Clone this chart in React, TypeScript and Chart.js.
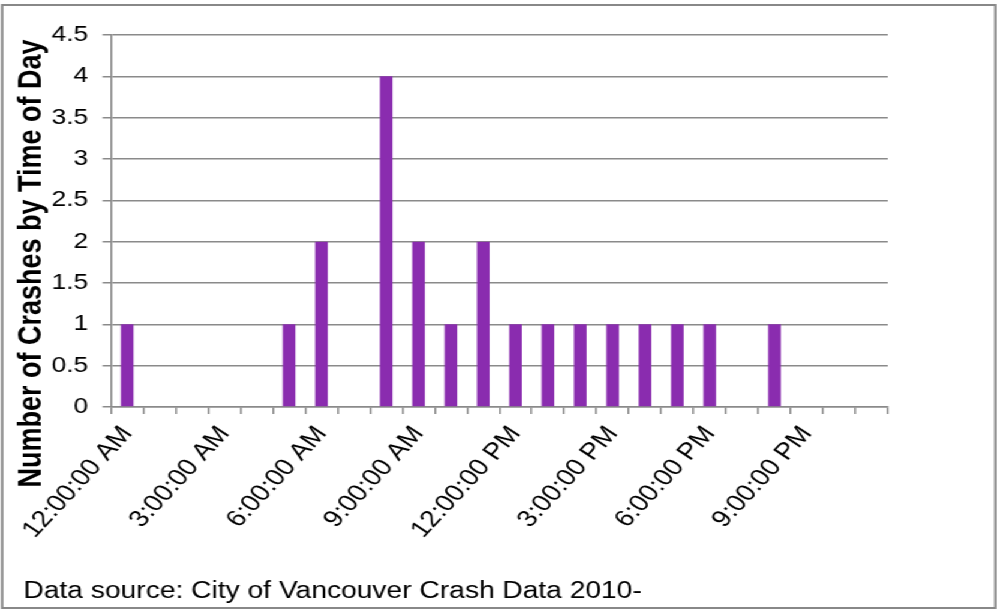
import React, { useEffect, useRef } from 'react';
import { Chart, registerables } from 'chart.js';

Chart.register(...registerables);

// ---- data ----
const HOURS: string[] = [
  '12:00:00 AM', '1:00:00 AM', '2:00:00 AM', '3:00:00 AM', '4:00:00 AM', '5:00:00 AM',
  '6:00:00 AM', '7:00:00 AM', '8:00:00 AM', '9:00:00 AM', '10:00:00 AM', '11:00:00 AM',
  '12:00:00 PM', '1:00:00 PM', '2:00:00 PM', '3:00:00 PM', '4:00:00 PM', '5:00:00 PM',
  '6:00:00 PM', '7:00:00 PM', '8:00:00 PM', '9:00:00 PM', '10:00:00 PM', '11:00:00 PM',
];
const CRASHES: number[] = [1, 0, 0, 0, 0, 1, 2, 0, 4, 2, 1, 2, 1, 1, 1, 1, 1, 1, 1, 0, 1, 0, 0, 0];
const Y_MIN = 0;
const Y_MAX = 4.5;
const Y_STEP = 0.5;
const LABEL_EVERY = 3;
const Y_TITLE = 'Number of Crashes by Time of Day';
const FOOTER = 'Data source: City of Vancouver Crash Data 2010-';

// ---- look ----
const PAGE_W = 997;
const PAGE_H = 613;
const INNER_W = 831; // drawn narrower, then stretched horizontally
const STRETCH = PAGE_W / INNER_W;
const FONT = "'Liberation Sans', Arial, Helvetica, sans-serif";
const GRID = '#8a8a8a';
const BAR = '#8a2caf';

const decor = {
  id: 'decor',
  beforeDraw(chart: any) {
    const ctx = chart.ctx;
    ctx.save();
    ctx.fillStyle = '#ffffff';
    ctx.fillRect(0, 0, chart.width, chart.height);
    ctx.strokeStyle = '#888888';
    ctx.lineWidth = 2;
    ctx.strokeRect(1.8, 5, chart.width - 3.2, chart.height - 10);
    ctx.restore();
  },
  afterDraw(chart: any) {
    const ctx = chart.ctx;
    ctx.save();
    ctx.fillStyle = '#000000';
    ctx.font = `bold 27px ${FONT}`;
    ctx.textAlign = 'center';
    ctx.textBaseline = 'alphabetic';
    ctx.translate(33.5, 263.5);
    ctx.rotate(-Math.PI / 2);
    ctx.fillText(Y_TITLE, 0, 0);
    ctx.restore();

    ctx.save();
    ctx.fillStyle = '#000000';
    ctx.font = `23.5px ${FONT}`;
    ctx.textAlign = 'left';
    ctx.textBaseline = 'alphabetic';
    ctx.fillText(FOOTER, 19.5, 598);
    ctx.restore();
  },
};

export default function App() {
  const canvasRef = useRef<HTMLCanvasElement | null>(null);

  useEffect(() => {
    document.body.style.margin = '0';
    const canvas = canvasRef.current;
    if (!canvas) return;
    const chart = new Chart(canvas, {
      type: 'bar',
      data: {
        labels: HOURS,
        datasets: [
          {
            data: CRASHES,
            backgroundColor: BAR,
            borderWidth: 0,
            barPercentage: 0.39,
            categoryPercentage: 1,
          },
        ],
      },
      options: {
        animation: false,
        responsive: true,
        maintainAspectRatio: false,
        devicePixelRatio: 1,
        layout: { padding: { left: 0, right: 91, top: 35, bottom: 0 } },
        plugins: {
          legend: { display: false },
          tooltip: { enabled: false },
          title: { display: false },
        },
        scales: {
          x: {
            grid: {
              display: true,
              drawOnChartArea: false,
              drawTicks: true,
              tickLength: 7,
              color: GRID,
              lineWidth: 1.5,
              offset: true,
            },
            border: { display: true, color: GRID, width: 1.5 },
            ticks: {
              autoSkip: false,
              maxRotation: 52,
              minRotation: 52,
              padding: 7,
              color: '#000000',
              font: { family: FONT, size: 23.5 },
              callback: (_v: any, i: number) => (i % LABEL_EVERY === 0 ? HOURS[i] : ''),
            },
            afterFit: (s: any) => {
              s.height = PAGE_H - 407;
            },
          },
          y: {
            min: Y_MIN,
            max: Y_MAX,
            ticks: {
              stepSize: Y_STEP,
              padding: 12,
              color: '#000000',
              font: { family: FONT, size: 22 },
              callback: (v: any) => String(Number(v)),
            },
            grid: { color: GRID, lineWidth: 1.5, tickLength: 7, drawTicks: true },
            border: { display: true, color: GRID, width: 1.5 },
            afterFit: (s: any) => {
              s.width = 92.5;
            },
          },
        },
      },
      plugins: [decor],
    } as any);
    return () => chart.destroy();
  }, []);

  return (
    <div
      style={{
        position: 'absolute',
        left: 0,
        top: 0,
        width: INNER_W,
        height: PAGE_H,
        transform: `scaleX(${STRETCH})`,
        transformOrigin: '0 0',
        background: '#fff',
      }}
    >
      <canvas ref={canvasRef} />
    </div>
  );
}
